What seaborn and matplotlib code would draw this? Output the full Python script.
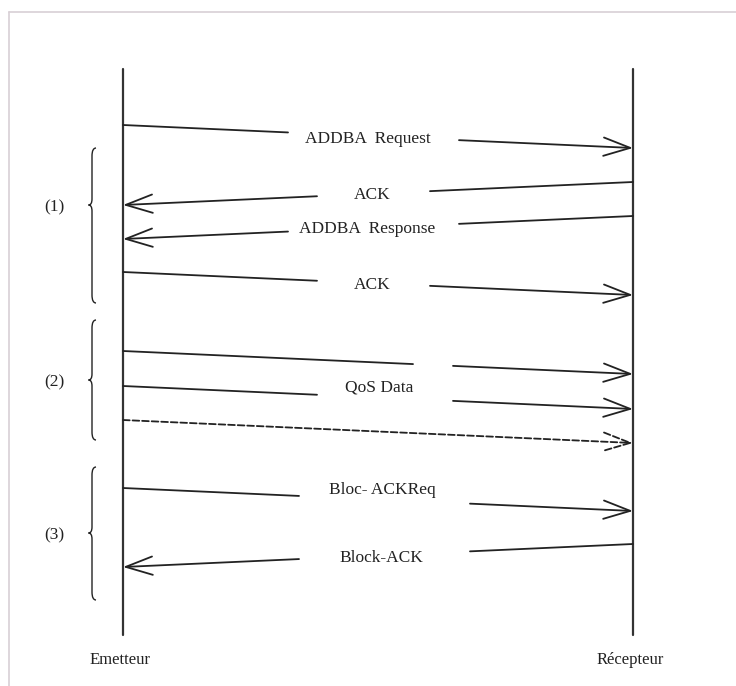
import matplotlib
matplotlib.use('Agg')
import matplotlib.pyplot as plt
from matplotlib.path import Path
from matplotlib.patches import PathPatch
import seaborn as sns
import pandas as pd

# actors (lifelines)
actors = ['Emetteur', 'Récepteur']
actor_x = [123, 633]
lifeline_top = 69
lifeline_bottom = 635

# messages: direction 1 = Emetteur -> Récepteur, -1 = back
msg_labels = ['ADDBA  Request', 'ACK', 'ADDBA  Response', 'ACK', '', 'QoS Data', '',
              'Bloc- ACKReq', 'Block-ACK']
msg_dir = [1, -1, -1, 1, 1, 1, 1, 1, -1]
msg_y_send = [125, 182, 216, 272, 351, 386, 420, 488, 544]
msg_drop = 23
msg_dashed = [False, False, False, False, False, False, True, False, False]
gap_left = [288, 317, 288, 317, 413, 317, None, 299, 299]
gap_right = [459, 430, 459, 430, 453, 453, None, 470, 470]
label_x = [368, 372, 367, 372, None, 379, None, 382, 381]
label_y = [139, 195, 229, 285, None, 388, None, 490, 558]

# phases
group_labels = ['(1)', '(2)', '(3)']
group_top = [148, 320, 467]
group_tip = [205, 380, 533]
group_bottom = [303, 440, 600]

sns.set_theme(style='white')
plt.rcParams['font.family'] = ['Liberation Serif', 'DejaVu Serif']

fig = plt.figure(figsize=(7.36, 6.86), dpi=100)
ax = fig.add_axes([0, 0, 1, 1])
ax.set_xlim(0, 736)
ax.set_ylim(686, 0)
ax.axis('off')

txt_color = '#222222'
fs = 12.5

# frame
ax.plot([9, 9], [686, 12], color='#d8d0d5', lw=1.2)
ax.plot([9, 736], [12, 12], color='#d8d0d5', lw=1.2)

# lifelines
df = pd.DataFrame({
    'x': [actor_x[0], actor_x[0], actor_x[1], actor_x[1]],
    'y': [lifeline_top, lifeline_bottom, lifeline_top, lifeline_bottom],
    'actor': [actors[0], actors[0], actors[1], actors[1]],
})
sns.lineplot(data=df, x='x', y='y', units='actor', estimator=None, sort=False,
             color='#333333', lw=1.6, ax=ax, legend=False)
ax.set_xlim(0, 736)
ax.set_ylim(686, 0)
ax.axis('off')

for name, x in zip(actors, actor_x):
    ax.text(x - 3, 660, name, ha='center', va='center', fontsize=fs - 0.5, color=txt_color)

head = dict(arrowstyle='->,head_length=1.6,head_width=0.55', color='#222222', lw=1.3,
            shrinkA=0, shrinkB=0)


def y_at(x, i):
    xs = actor_x[0] if msg_dir[i] == 1 else actor_x[1]
    xe = actor_x[1] if msg_dir[i] == 1 else actor_x[0]
    return msg_y_send[i] + msg_drop * (x - xs) / (xe - xs)


for i in range(len(msg_labels)):
    xs = actor_x[0] if msg_dir[i] == 1 else actor_x[1]
    xe = actor_x[1] if msg_dir[i] == 1 else actor_x[0]
    ls = '--' if msg_dashed[i] else '-'
    hd = dict(head, linestyle=ls)
    if gap_left[i] is None:
        ax.annotate('', xy=(xe, y_at(xe, i)), xytext=(xs, y_at(xs, i)), arrowprops=hd)
    else:
        if msg_dir[i] == 1:
            ax.plot([xs, gap_left[i]], [y_at(xs, i), y_at(gap_left[i], i)], color='#222222', lw=1.3, ls=ls)
            ax.annotate('', xy=(xe, y_at(xe, i)), xytext=(gap_right[i], y_at(gap_right[i], i)), arrowprops=hd)
        else:
            ax.plot([xs, gap_right[i]], [y_at(xs, i), y_at(gap_right[i], i)], color='#222222', lw=1.3, ls=ls)
            ax.annotate('', xy=(xe, y_at(xe, i)), xytext=(gap_left[i], y_at(gap_left[i], i)), arrowprops=hd)
    if msg_labels[i]:
        ax.text(label_x[i], label_y[i], msg_labels[i], ha='center', va='center',
                fontsize=fs, color=txt_color)


def brace(x, top, tip, bottom):
    verts = [(x + 4, top), (x, top), (x, top + 8),
             (x, tip - 6),
             (x, tip), (x - 3.5, tip),
             (x, tip), (x, tip + 6),
             (x, bottom - 8),
             (x, bottom), (x + 4, bottom)]
    codes = [Path.MOVETO, Path.CURVE3, Path.CURVE3,
             Path.LINETO,
             Path.CURVE3, Path.CURVE3,
             Path.CURVE3, Path.CURVE3,
             Path.LINETO,
             Path.CURVE3, Path.CURVE3]
    ax.add_patch(PathPatch(Path(verts, codes), fill=False, edgecolor='#222222', lw=1.0))


for lab, t, m, b in zip(group_labels, group_top, group_tip, group_bottom):
    brace(92, t, m, b)
    ax.text(54, m + 2, lab, ha='center', va='center', fontsize=fs, color=txt_color)

fig.savefig('out.png', dpi=100)
